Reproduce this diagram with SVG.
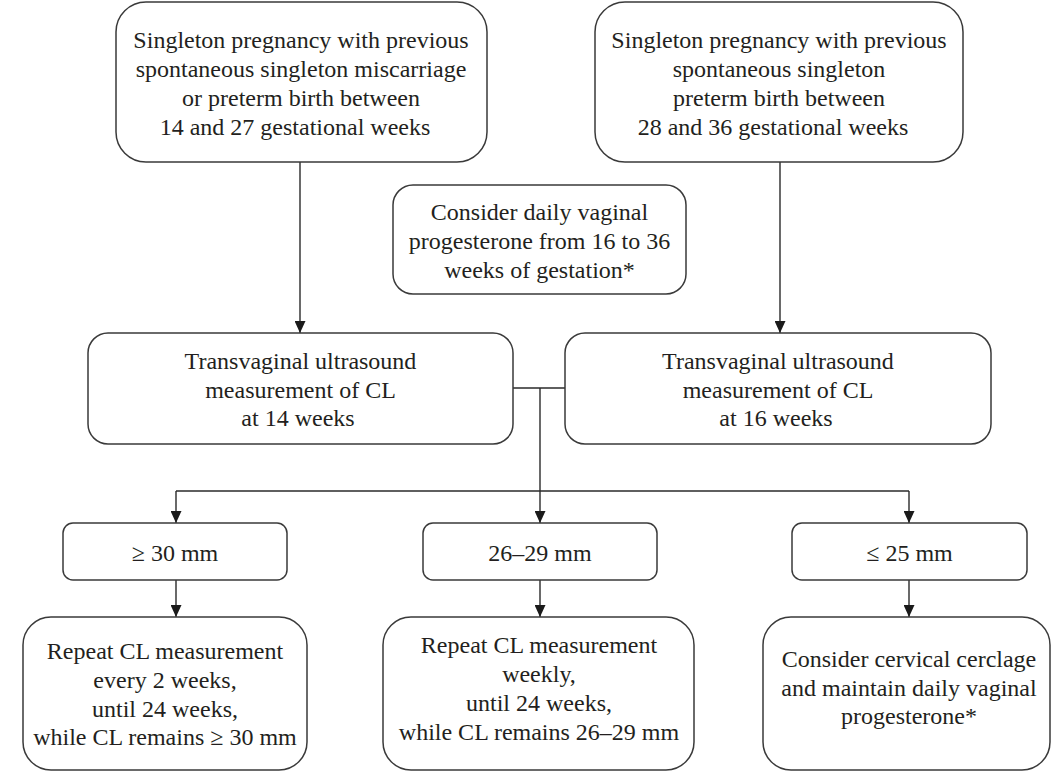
<svg xmlns="http://www.w3.org/2000/svg" width="1053" height="773" viewBox="0 0 1053 773">
<defs>
<style>
.box{fill:#fff;stroke:#3a3a3a;stroke-width:1.5}
.t{font-family:"Liberation Serif","Times New Roman",serif;font-size:24px;fill:#231f20;text-anchor:middle}
.c{fill:none;stroke:#2a2a2a;stroke-width:1.4}
</style>
<marker id="ah" viewBox="0 0 12 11" refX="12" refY="5.5" markerWidth="12" markerHeight="11" markerUnits="userSpaceOnUse" orient="auto">
<path d="M0,0 L12,5.5 L0,11 z" fill="#1a1a1a"/>
</marker>
</defs>
<rect width="1053" height="773" fill="#fff"/>
<g id="connectors">
<line class="c" x1="300" y1="162" x2="300" y2="333" marker-end="url(#ah)"/>
<line class="c" x1="780" y1="162" x2="780" y2="333" marker-end="url(#ah)"/>
<line class="c" x1="513" y1="388" x2="565" y2="388"/>
<line class="c" x1="540" y1="388" x2="540" y2="491"/>
<line class="c" x1="176" y1="491" x2="909" y2="491"/>
<line class="c" x1="176" y1="491" x2="176" y2="523" marker-end="url(#ah)"/>
<line class="c" x1="540" y1="491" x2="540" y2="523" marker-end="url(#ah)"/>
<line class="c" x1="909" y1="491" x2="909" y2="523" marker-end="url(#ah)"/>
<line class="c" x1="176" y1="580" x2="176" y2="617" marker-end="url(#ah)"/>
<line class="c" x1="540" y1="580" x2="540" y2="617" marker-end="url(#ah)"/>
<line class="c" x1="909" y1="580" x2="909" y2="617" marker-end="url(#ah)"/>
</g>
<g id="n_prev_14_27">
<rect class="box" x="116" y="2" width="371" height="160" rx="30"/>
<text class="t" x="301" y="48">Singleton pregnancy with previous</text>
<text class="t" x="301" y="77">spontaneous singleton miscarriage</text>
<text class="t" x="301" y="106">or preterm birth between</text>
<text class="t" x="295" y="135">14 and 27 gestational weeks</text>
</g>
<g id="n_prev_28_36">
<rect class="box" x="595" y="2" width="368" height="160" rx="30"/>
<text class="t" x="779" y="48">Singleton pregnancy with previous</text>
<text class="t" x="779" y="77">spontaneous singleton</text>
<text class="t" x="779" y="106">preterm birth between</text>
<text class="t" x="773" y="135">28 and 36 gestational weeks</text>
</g>
<g id="n_progesterone">
<rect class="box" x="393" y="185" width="293" height="109" rx="20"/>
<text class="t" x="539.5" y="220">Consider daily vaginal</text>
<text class="t" x="539.5" y="249">progesterone from 16 to 36</text>
<text class="t" x="539.5" y="278">weeks of gestation*</text>
</g>
<g id="n_tvu14">
<rect class="box" x="88" y="333" width="425" height="111" rx="20"/>
<text class="t" x="300.5" y="369">Transvaginal ultrasound</text>
<text class="t" x="300.5" y="398">measurement of CL</text>
<text class="t" x="298" y="426">at 14 weeks</text>
</g>
<g id="n_tvu16">
<rect class="box" x="565" y="333" width="426" height="111" rx="20"/>
<text class="t" x="778" y="369">Transvaginal ultrasound</text>
<text class="t" x="778" y="398">measurement of CL</text>
<text class="t" x="776" y="426">at 16 weeks</text>
</g>
<g id="n_ge30">
<rect class="box" x="63" y="523" width="224" height="57" rx="10"/>
<text class="t" x="175" y="561">≥ 30 mm</text>
</g>
<g id="n_26_29">
<rect class="box" x="423" y="523" width="234" height="57" rx="10"/>
<text class="t" x="540" y="561">26–29 mm</text>
</g>
<g id="n_le25">
<rect class="box" x="792" y="523" width="235" height="57" rx="10"/>
<text class="t" x="909.5" y="561">≤ 25 mm</text>
</g>
<g id="n_repeat2">
<rect class="box" x="23" y="617" width="284" height="153" rx="28"/>
<text class="t" x="165" y="659">Repeat CL measurement</text>
<text class="t" x="165" y="688">every 2 weeks,</text>
<text class="t" x="165" y="717">until 24 weeks,</text>
<text class="t" x="165" y="745">while CL remains ≥ 30 mm</text>
</g>
<g id="n_repeatweekly">
<rect class="box" x="383" y="617" width="311" height="153" rx="28"/>
<text class="t" x="539" y="653">Repeat CL measurement</text>
<text class="t" x="539" y="682">weekly,</text>
<text class="t" x="539" y="711">until 24 weeks,</text>
<text class="t" x="539" y="740">while CL remains 26–29 mm</text>
</g>
<g id="n_cerclage">
<rect class="box" x="763" y="617" width="287" height="153" rx="28"/>
<text class="t" x="909" y="667">Consider cervical cerclage</text>
<text class="t" x="909" y="696">and maintain daily vaginal</text>
<text class="t" x="909" y="724">progesterone*</text>
</g>
</svg>
